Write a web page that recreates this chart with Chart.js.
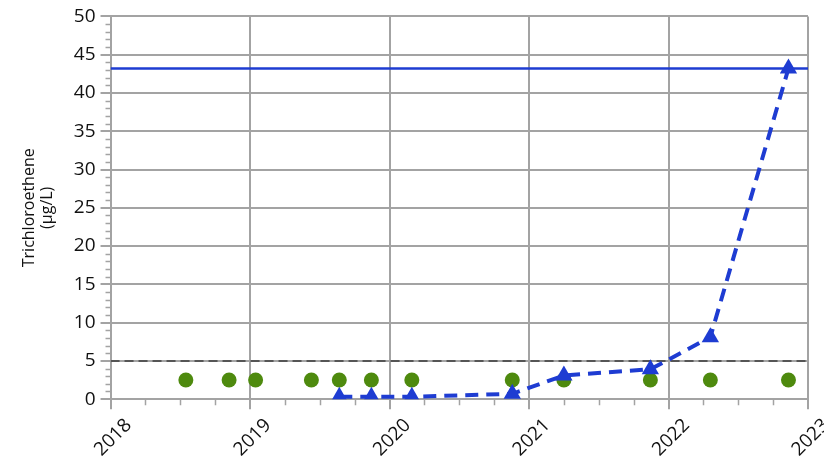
<!DOCTYPE html>
<html>
<head>
<meta charset="utf-8">
<script src="https://cdn.jsdelivr.net/npm/chart.js@4/dist/chart.umd.min.js"></script>
<style>
  html, body { margin: 0; padding: 0; background: #fff; }
  #wrap { width: 824px; height: 466px; }
</style>
</head>
<body>
<div id="wrap"><canvas id="myChart"></canvas></div>
<script>
// sample dates (decimal years) and values
const dotDates = [2018.54, 2018.85, 2019.04, 2019.44, 2019.64, 2019.87, 2020.16, 2020.88, 2021.25, 2021.87, 2022.30, 2022.86]
const dotValues = [2.5, 2.5, 2.5, 2.5, 2.5, 2.5, 2.5, 2.5, 2.5, 2.5, 2.5, 2.5]

const triDates = [2019.64, 2019.87, 2020.16, 2020.88, 2021.25, 2021.87, 2022.30, 2022.86]
const triValues = [0.3, 0.3, 0.3, 0.7, 3.1, 3.9, 8.1, 43.2]

const refDates = [2018, 2023]
const upperLimit = [43.2, 43.2]
const mcl = [5, 5]

const yearTicks = [2018, 2019, 2020, 2021, 2022, 2023]
const yTitle = ['Trichloroethene', '(µg/L)']

const GRID = '#a3a3a3'
const BLUE = 'rgb(30, 60, 210)'
const GREEN = 'rgb(78, 138, 14)'

function pts(xs, ys) {
  return xs.map((x, i) => ({ x: x, y: ys[i] }))
}

// small minor tick marks, like the source
const minorTicks = {
  id: 'minorTicks',
  afterDraw(chart) {
    const ctx = chart.ctx
    const xs = chart.scales.x, ys = chart.scales.y
    ctx.save()
    ctx.strokeStyle = GRID
    ctx.lineWidth = 1.5
    ctx.beginPath()
    for (let v = yearTicks[0]; v < yearTicks[yearTicks.length - 1]; v += 0.25) {
      if (Math.abs(v - Math.round(v)) < 0.01) continue
      const px = Math.round(xs.getPixelForValue(v)) + 0.5
      ctx.moveTo(px, ys.bottom)
      ctx.lineTo(px, ys.bottom + 6)
    }
    for (let v = 1; v < 50; v++) {
      if (v % 5 === 0) continue
      const py = Math.round(ys.getPixelForValue(v)) + 0.5
      ctx.moveTo(xs.left - 5, py)
      ctx.lineTo(xs.left, py)
    }
    ctx.stroke()
    ctx.restore()
  }
}

const data = {
  datasets: [
    {
      label: 'limit',
      data: pts(refDates, upperLimit),
      borderColor: BLUE,
      borderWidth: 2.5,
      pointRadius: 0,
      fill: false,
      order: 3,
    },
    {
      label: 'MCL',
      data: pts(refDates, mcl),
      borderColor: '#555555',
      borderWidth: 2,
      borderDash: [9, 5],
      pointRadius: 0,
      fill: false,
      order: 4,
    },
    {
      label: 'Non-detect',
      data: pts(dotDates, dotValues),
      showLine: false,
      pointStyle: 'circle',
      pointRadius: 7.5,
      backgroundColor: GREEN,
      borderColor: GREEN,
      borderWidth: 0,
      order: 2,
    },
    {
      label: 'TCE',
      data: pts(triDates, triValues),
      borderColor: BLUE,
      backgroundColor: BLUE,
      borderWidth: 4,
      borderDash: [13, 8],
      pointStyle: 'triangle',
      pointRadius: 10,
      pointBorderWidth: 0,
      fill: false,
      order: 1,
    },
  ],
}

const config = {
  type: 'line',
  data: data,
  plugins: [minorTicks],
  options: {
    animation: false,
    responsive: true,
    maintainAspectRatio: false,
    layout: { padding: { top: 9, right: 16, left: 20, bottom: 0 } },
    scales: {
      x: {
        type: 'linear',
        min: 2018,
        max: 2023,
        afterBuildTicks: (axis) => { axis.ticks = yearTicks.map(v => ({ value: v })) },
        // let the last label run off the edge, as in the source
        afterFit: (axis) => { axis.paddingRight = 0 },
        grid: { color: GRID, lineWidth: 2, tickLength: 10, tickColor: GRID },
        border: { color: GRID, width: 2 },
        ticks: {
          color: '#111',
          font: { family: 'Open Sans', size: 19 },
          maxRotation: 45,
          minRotation: 45,
          labelOffset: 18,
          padding: 5,
          callback: (v) => String(v),
        },
      },
      y: {
        min: 0,
        max: 50,
        grid: { color: GRID, lineWidth: 2, tickLength: 10, tickColor: GRID },
        border: { color: GRID, width: 2 },
        ticks: {
          stepSize: 5,
          color: '#111',
          font: { family: 'Open Sans', size: 19 },
          padding: 5,
        },
        title: {
          display: true,
          text: yTitle,
          color: '#111',
          font: { family: 'Open Sans', size: 16, lineHeight: 1.15 },
          padding: { top: 0, bottom: 12 },
        },
      },
    },
    plugins: {
      legend: { display: false },
      tooltip: { enabled: false },
    },
  },
}

const chart = new Chart(document.getElementById('myChart'), config)
</script>
</body>
</html>
